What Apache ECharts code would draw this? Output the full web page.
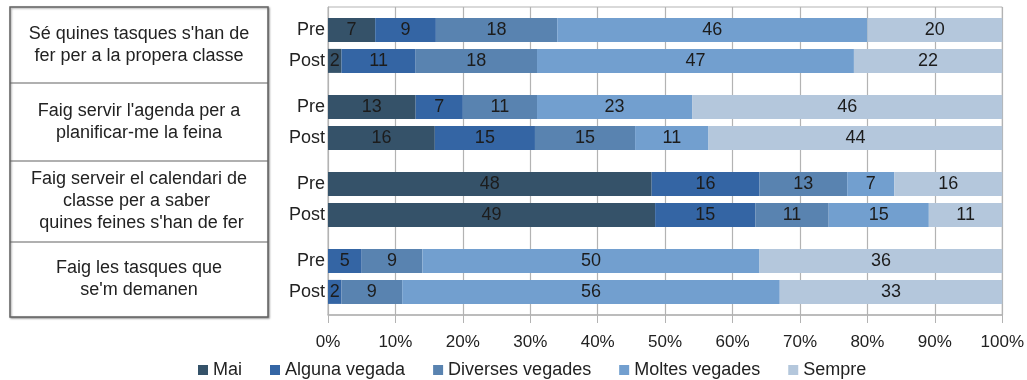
<!DOCTYPE html>
<html>
<head>
<meta charset="utf-8">
<script src="https://cdn.jsdelivr.net/npm/echarts@6/dist/echarts.min.js"></script>
<style>
  html, body { margin: 0; padding: 0; background: #fff; }
  #chart { width: 1027px; height: 380px; }
</style>
</head>
<body>
<div id="chart"></div>
<script>
// Statements (each drawn as a multi-line cell in the left table)
const questions = [
  ["Sé quines tasques s'han de", "fer per a la propera classe"],
  ["Faig servir l'agenda per a", "planificar-me la feina"],
  ["Faig serveir el calendari de", "classe per a saber ", " quines feines s'han de fer"],
  ["Faig les tasques que", "se'm demanen"]
];
const moments = ["Pre", "Post"];
const answers = ["Mai", "Alguna vegada", "Diverses vegades", "Moltes vegades", "Sempre"];
const colors = ["#355269", "#3465a4", "#5983b0", "#729fcf", "#b4c7dc"];
const tickLabels = ["0%", "10%", "20%", "30%", "40%", "50%", "60%", "70%", "80%", "90%", "100%"];

// Answer counts per row: [question][Pre/Post] -> one value per answer
const mai      = [[7, 2],  [13, 16], [48, 49], [0, 0]];
const alguna   = [[9, 11], [7, 15],  [16, 15], [5, 2]];
const diverses = [[18, 18],[11, 15], [13, 11], [9, 9]];
const moltes   = [[46, 47],[23, 11], [7, 15],  [50, 56]];
const sempre   = [[20, 22],[46, 44], [16, 11], [36, 33]];
const seriesValues = [mai, alguna, diverses, moltes, sempre];

// Each question takes five category slots: gap, Pre, gap, Post, gap
const SLOTS = 5;
const rowSlot = [1, 3];
const yCats = [];
for (let q = 0; q < questions.length; q++) {
  for (let s = 0; s < SLOTS; s++) {
    const m = rowSlot.indexOf(s);
    yCats.push(m >= 0 ? moments[m] : "");
  }
}

function rowTotal(q, m) {
  return seriesValues.reduce((acc, arr) => acc + arr[q][m], 0);
}

// Bars are drawn as each answer's share of its row (100% stacked)
const series = answers.map((name, i) => {
  const data = yCats.map(() => "-");
  for (let q = 0; q < questions.length; q++) {
    for (let m = 0; m < moments.length; m++) {
      const v = seriesValues[i][q][m];
      data[q * SLOTS + rowSlot[m]] = { value: v / rowTotal(q, m) * 100, raw: v };
    }
  }
  return {
    name: name,
    type: "bar",
    stack: "all",
    barWidth: 24,
    itemStyle: { color: colors[i] },
    label: {
      show: true,
      position: "inside",
      color: "#1c1c1c",
      fontFamily: "Liberation Sans",
      fontSize: 18,
      formatter: p => (p.data && p.data.raw ? String(p.data.raw) : "")
    },
    data: data
  };
});

// Left table with the statements
const TABLE = { x: 10, y: 7, w: 258, h: 310 };
const rowBounds = [7, 83, 161, 242, 317];
const LINE_H = 22;
const graphics = [{
  type: "rect",
  shape: { x: TABLE.x, y: TABLE.y, width: TABLE.w, height: TABLE.h },
  style: {
    fill: "#fff", stroke: "#626262", lineWidth: 1.5,
    shadowBlur: 2, shadowOffsetX: 1, shadowOffsetY: 1, shadowColor: "rgba(0,0,0,0.35)"
  },
  z: 10
}];
for (let r = 1; r < rowBounds.length - 1; r++) {
  graphics.push({
    type: "line",
    shape: { x1: TABLE.x, y1: rowBounds[r], x2: TABLE.x + TABLE.w, y2: rowBounds[r] },
    style: { stroke: "#626262", lineWidth: 1.2 },
    z: 11
  });
}
questions.forEach((lines, q) => {
  const mid = (rowBounds[q] + rowBounds[q + 1]) / 2;
  const startY = mid - (lines.length - 1) * LINE_H / 2;
  lines.forEach((t, k) => {
    graphics.push({
      type: "text",
      x: TABLE.x + TABLE.w / 2,
      y: startY + k * LINE_H,
      style: {
        text: t,
        fill: "#222",
        font: "18px 'Liberation Sans'",
        textAlign: "center",
        textVerticalAlign: "middle"
      },
      z: 12
    });
  });
});

const chart = echarts.init(document.getElementById("chart"), null, { renderer: "canvas" });
chart.setOption({
  backgroundColor: "#fff",
  animation: false,
  textStyle: { fontFamily: "Liberation Sans" },
  grid: {
    left: 328, right: 23, top: 7, bottom: 65,
    show: true, borderColor: "#b3b3b3", borderWidth: 1
  },
  legend: {
    data: answers,
    left: 193, top: 356,
    icon: "rect",
    itemWidth: 10, itemHeight: 10, itemGap: 28,
    textStyle: { fontSize: 18, color: "#222", fontFamily: "Liberation Sans" }
  },
  xAxis: {
    type: "value",
    min: 0, max: 100, interval: 10,
    axisLine: { show: true, lineStyle: { color: "#b3b3b3", width: 1.5 } },
    axisTick: { show: true, length: 8, lineStyle: { color: "#b3b3b3" } },
    splitLine: { show: true, lineStyle: { color: "#b3b3b3", width: 1.2 } },
    axisLabel: {
      margin: 19, fontSize: 17, color: "#222", fontFamily: "Liberation Sans",
      formatter: v => tickLabels[Math.round(v / 10)]
    }
  },
  yAxis: {
    type: "category",
    inverse: true,
    data: yCats,
    axisLine: { show: true, lineStyle: { color: "#b3b3b3" } },
    axisTick: { show: false },
    splitLine: { show: false },
    axisLabel: { interval: 0, margin: 3, fontSize: 18, color: "#222", fontFamily: "Liberation Sans" }
  },
  graphic: graphics,
  series: series
});
</script>
</body>
</html>
